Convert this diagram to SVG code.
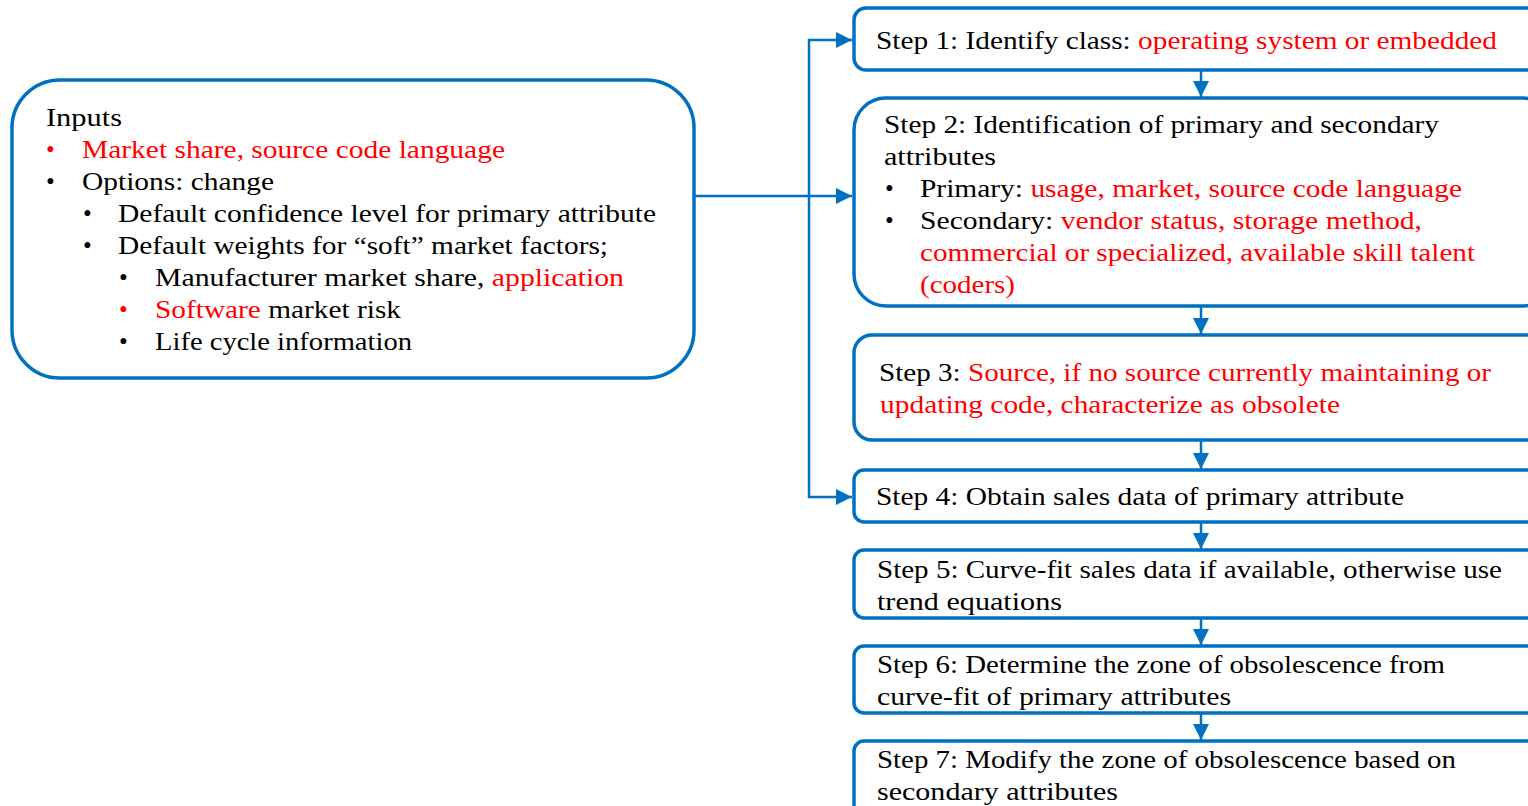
<svg xmlns="http://www.w3.org/2000/svg" width="1528" height="806" viewBox="0 0 1528 806">
<style>
.box{fill:#fff;stroke:#0070C0;stroke-width:3.5}
.con{fill:none;stroke:#0070C0;stroke-width:2.5}
text{font-family:"Liberation Serif","Times New Roman",serif;font-size:25px;fill:#000}
.r{fill:#FF0000}
</style>
<defs>
<marker id="ah" markerUnits="userSpaceOnUse" markerWidth="16" markerHeight="16" viewBox="0 0 16 16" refX="16" refY="8" orient="auto">
<path d="M0,0 L16,8 L0,16 Z" fill="#0070C0"/>
</marker>
</defs>
<rect width="1528" height="806" fill="#fff"/>
<g id="connectors">
<line class="con" x1="694" y1="196" x2="852" y2="196" marker-end="url(#ah)"/>
<polyline class="con" points="809,197 809,40 852,40" marker-end="url(#ah)"/>
<polyline class="con" points="809,195 809,497 852,497" marker-end="url(#ah)"/>
<line class="con" x1="1201" y1="71" x2="1201" y2="97" marker-end="url(#ah)"/>
<line class="con" x1="1201" y1="307" x2="1201" y2="334" marker-end="url(#ah)"/>
<line class="con" x1="1201" y1="441" x2="1201" y2="469" marker-end="url(#ah)"/>
<line class="con" x1="1201" y1="523" x2="1201" y2="549" marker-end="url(#ah)"/>
<line class="con" x1="1201" y1="619" x2="1201" y2="645" marker-end="url(#ah)"/>
<line class="con" x1="1201" y1="714" x2="1201" y2="740" marker-end="url(#ah)"/>
</g>
<g id="inputs">
<rect class="box" x="12" y="80" width="682" height="298" rx="48"/>
<text x="46" y="126" textLength="76" lengthAdjust="spacingAndGlyphs">Inputs</text>
<text x="46" y="158" class="r">•</text>
<text x="82" y="158" class="r" textLength="423" lengthAdjust="spacingAndGlyphs">Market share, source code language</text>
<text x="46" y="190">•</text>
<text x="82" y="190" textLength="192" lengthAdjust="spacingAndGlyphs">Options: change</text>
<text x="83" y="222">•</text>
<text x="118" y="222" textLength="538" lengthAdjust="spacingAndGlyphs">Default confidence level for primary attribute</text>
<text x="83" y="254">•</text>
<text x="118" y="254" textLength="490" lengthAdjust="spacingAndGlyphs">Default weights for “soft” market factors;</text>
<text x="119" y="286">•</text>
<text x="155" y="286" textLength="469" lengthAdjust="spacingAndGlyphs">Manufacturer market share, <tspan class="r">application</tspan></text>
<text x="119" y="318" class="r">•</text>
<text x="155" y="318" textLength="246" lengthAdjust="spacingAndGlyphs"><tspan class="r">Software</tspan> market risk</text>
<text x="119" y="350">•</text>
<text x="155" y="350" textLength="257" lengthAdjust="spacingAndGlyphs">Life cycle information</text>
</g>
<g id="step1">
<rect class="box" x="854" y="8" width="700" height="62" rx="12"/>
<text x="876" y="49" textLength="621" lengthAdjust="spacingAndGlyphs">Step 1: Identify class: <tspan class="r">operating system or embedded</tspan></text>
</g>
<g id="step2">
<rect class="box" x="854" y="98" width="700" height="208" rx="32"/>
<text x="884" y="133" textLength="555" lengthAdjust="spacingAndGlyphs">Step 2: Identification of primary and secondary</text>
<text x="884" y="165" textLength="112" lengthAdjust="spacingAndGlyphs">attributes</text>
<text x="885" y="197">•</text>
<text x="920" y="197" textLength="542" lengthAdjust="spacingAndGlyphs">Primary: <tspan class="r">usage, market, source code language</tspan></text>
<text x="885" y="229">•</text>
<text x="920" y="229" textLength="502" lengthAdjust="spacingAndGlyphs">Secondary: <tspan class="r">vendor status, storage method,</tspan></text>
<text x="920" y="261" class="r" textLength="555" lengthAdjust="spacingAndGlyphs">commercial or specialized, available skill talent</text>
<text x="920" y="293" class="r" textLength="95" lengthAdjust="spacingAndGlyphs">(coders)</text>
</g>
<g id="step3">
<rect class="box" x="854" y="335" width="700" height="105" rx="18"/>
<text x="879" y="381" textLength="612" lengthAdjust="spacingAndGlyphs">Step 3: <tspan class="r">Source, if no source currently maintaining or</tspan></text>
<text x="880" y="413" class="r" textLength="460" lengthAdjust="spacingAndGlyphs">updating code, characterize as obsolete</text>
</g>
<g id="step4">
<rect class="box" x="854" y="470" width="700" height="52" rx="10"/>
<text x="876" y="505" textLength="528" lengthAdjust="spacingAndGlyphs">Step 4: Obtain sales data of primary attribute</text>
</g>
<g id="step5">
<rect class="box" x="854" y="550" width="700" height="68" rx="10"/>
<text x="877" y="578" textLength="625" lengthAdjust="spacingAndGlyphs">Step 5: Curve-fit sales data if available, otherwise use</text>
<text x="877" y="610" textLength="185" lengthAdjust="spacingAndGlyphs">trend equations</text>
</g>
<g id="step6">
<rect class="box" x="854" y="646" width="700" height="67" rx="10"/>
<text x="877" y="673" textLength="568" lengthAdjust="spacingAndGlyphs">Step 6: Determine the zone of obsolescence from</text>
<text x="877" y="705" textLength="354" lengthAdjust="spacingAndGlyphs">curve-fit of primary attributes</text>
</g>
<g id="step7">
<rect class="box" x="854" y="741" width="700" height="80" rx="10"/>
<text x="877" y="768" textLength="579" lengthAdjust="spacingAndGlyphs">Step 7: Modify the zone of obsolescence based on</text>
<text x="877" y="800" textLength="241" lengthAdjust="spacingAndGlyphs">secondary attributes</text>
</g>
</svg>
